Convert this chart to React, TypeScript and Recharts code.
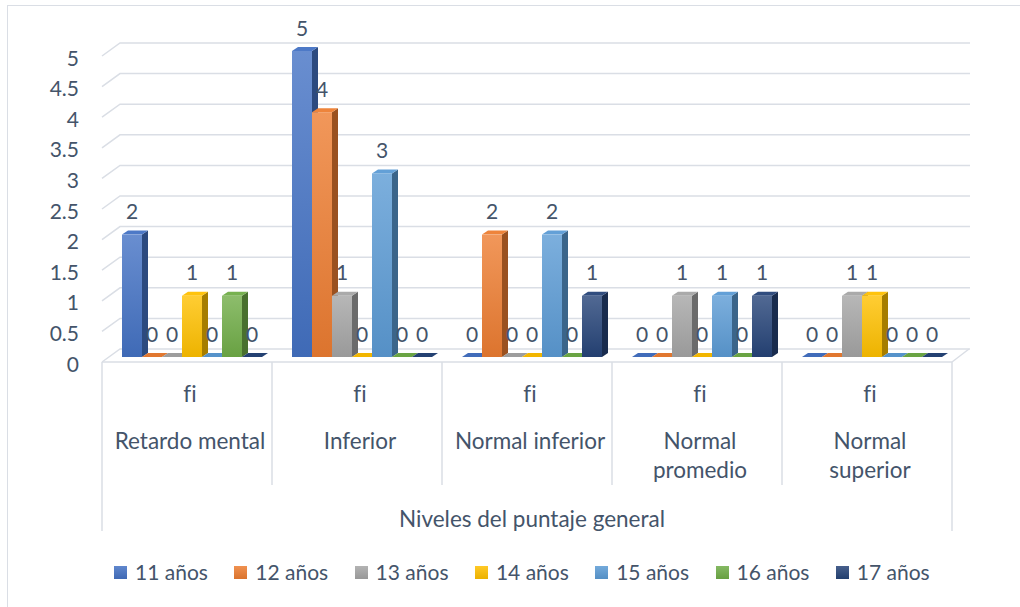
import { BarChart, Bar, XAxis, YAxis, CartesianGrid, LabelList } from 'recharts'

// categories (tick labels, already split the way the chart wraps them)
const categoryLines = [
  ['Retardo mental'],
  ['Inferior'],
  ['Normal inferior'],
  ['Normal', 'promedio'],
  ['Normal', 'superior'],
]
const subLabel = 'fi'
const axisTitle = 'Niveles del puntaje general'
const yTicks = [0, 0.5, 1, 1.5, 2, 2.5, 3, 3.5, 4, 4.5, 5]

const seriesNames = ['11 años', '12 años', '13 años', '14 años', '15 años', '16 años', '17 años']
const seriesColors = ['#4472C4', '#ED7D31', '#A5A5A5', '#FFC000', '#5B9BD5', '#70AD47', '#264478']

const age11 = [2, 5, 0, 0, 0]
const age12 = [0, 4, 2, 0, 0]
const age13 = [0, 1, 0, 1, 1]
const age14 = [1, 0, 0, 0, 1]
const age15 = [0, 3, 2, 1, 0]
const age16 = [1, 0, 0, 0, 0]
const age17 = [0, 0, 1, 1, 0]
const seriesValues = [age11, age12, age13, age14, age15, age16, age17]

const data = categoryLines.map((lines, i) => {
  const row: Record<string, number | string> = { name: lines.join(' ') }
  seriesValues.forEach((vals, j) => {
    row['s' + j] = vals[i]
  })
  return row
})

const W = 1020
const H = 607
const Y_AXIS_W = 107
const RIGHT = 63
const TOP = 51
const X_AXIS_H = 250
const PLOT_BOTTOM = H - X_AXIS_H
const BAND = (W - Y_AXIS_W - RIGHT) / categoryLines.length

const TEXT = '#44546A'
const GRID = '#dadee5'
const FONT = 'Lato, "Open Sans", sans-serif'
const FS = 21
const CAT_FS = 22.5
const noLig = { fontVariantLigatures: 'none' as const }

// depth of the fake 3d boxes
const DX = 6
const DY = 4

function mix(hex: string, t: number) {
  const n = parseInt(hex.slice(1), 16)
  const ch = [(n >> 16) & 255, (n >> 8) & 255, n & 255].map((c) =>
    Math.round(t >= 0 ? c + (255 - c) * t : c * (1 + t))
  )
  return '#' + ch.map((c) => c.toString(16).padStart(2, '0')).join('')
}

function Box3D(props: any) {
  const { x, y, width: w, height: h, sid } = props
  const base = seriesColors[sid]
  if (!h || h < 0.5) {
    return (
      <polygon
        points={`${x},${y} ${x + w},${y} ${x + w + DX},${y - DY} ${x + DX},${y - DY}`}
        fill={mix(base, -0.05)}
      />
    )
  }
  const gid = `g${sid}-${props.index}`
  return (
    <g>
      <defs>
        <linearGradient id={gid} x1="0" y1="0" x2="0" y2="1">
          <stop offset="0%" stopColor={mix(base, 0.2)} />
          <stop offset="100%" stopColor={mix(base, -0.07)} />
        </linearGradient>
      </defs>
      <polygon
        points={`${x + w},${y} ${x + w + DX},${y - DY} ${x + w + DX},${y + h - DY} ${x + w},${y + h}`}
        fill={mix(base, -0.35)}
      />
      <polygon
        points={`${x},${y} ${x + DX},${y - DY} ${x + w + DX},${y - DY} ${x + w},${y}`}
        fill={mix(base, 0.05)}
      />
      <rect x={x} y={y} width={w} height={h} fill={`url(#${gid})`} />
    </g>
  )
}

const gridLine = (p: any) => {
  const { x1, x2, y1 } = p
  return (
    <polyline
      key={p.key}
      points={`${x1 - 5},${y1 + 5} ${x1 + 13},${y1 - 8} ${x2 + 13},${y1 - 8}`}
      fill="none"
      stroke={GRID}
      strokeWidth={1.5}
    />
  )
}

const YTick = (p: any) => (
  <text
    x={79}
    y={p.y + 6}
    textAnchor="end"
    dominantBaseline="central"
    fill={TEXT}
    fontSize={FS}
    fontFamily={FONT}
  >
    {p.payload.value}
  </text>
)

const CatTick = (p: any) => {
  const { x, index } = p
  const left = x - BAND / 2 - 5
  const fy = PLOT_BOTTOM + 5
  const last = index === categoryLines.length - 1
  return (
    <g>
      <line x1={left} y1={fy} x2={left + BAND} y2={fy} stroke={GRID} strokeWidth={1.5} />
      <line x1={left} y1={fy} x2={left} y2={index === 0 ? 531 : 485} stroke={GRID} strokeWidth={1.5} />
      {last && (
        <>
          <line x1={left + BAND} y1={fy} x2={left + BAND} y2={531} stroke={GRID} strokeWidth={1.5} />
          <line x1={left + BAND} y1={fy} x2={left + BAND + 17} y2={fy - 13} stroke={GRID} strokeWidth={1.5} />
        </>
      )}
      <text
        x={x - 2}
        y={393}
        textAnchor="middle"
        dominantBaseline="central"
        fill={TEXT}
        fontSize={CAT_FS}
        fontFamily={FONT}
        style={noLig}
      >
        {subLabel}
      </text>
      {categoryLines[index].map((line, k) => (
        <text
          key={k}
          x={x - 2}
          y={440 + k * 29}
          textAnchor="middle"
          dominantBaseline="central"
          fill={TEXT}
          fontSize={CAT_FS}
          fontFamily={FONT}
          style={noLig}
        >
          {line}
        </text>
      ))}
    </g>
  )
}

const valueLabel = (p: any) => (
  <text
    x={p.x + p.width / 2}
    y={p.y - 24}
    textAnchor="middle"
    dominantBaseline="central"
    fill={TEXT}
    fontSize={FS}
    fontFamily={FONT}
  >
    {p.value}
  </text>
)

export default function App() {
  return (
    <div
      style={{
        position: 'absolute',
        left: 0,
        top: 0,
        width: W,
        height: H,
        overflow: 'hidden',
        background: '#fff',
        fontFamily: FONT,
      }}
    >
      <div
        style={{
          position: 'absolute',
          left: 7,
          top: 5,
          width: W + 20,
          height: H + 20,
          borderLeft: `1.5px solid ${GRID}`,
          borderTop: `1.5px solid ${GRID}`,
        }}
      />
      <div style={{ position: 'absolute', left: 0, top: 0 }}>
        <BarChart
          width={W}
          height={H}
          data={data}
          margin={{ top: TOP, right: RIGHT, bottom: 0, left: 0 }}
          barSize={20}
          barGap={0}
        >
          <CartesianGrid horizontal={gridLine} vertical={false} />
          <YAxis
            width={Y_AXIS_W}
            domain={[0, 5]}
            ticks={yTicks}
            axisLine={false}
            tickLine={false}
            tick={YTick}
          />
          <XAxis
            dataKey="name"
            height={X_AXIS_H}
            axisLine={false}
            tickLine={false}
            interval={0}
            tick={CatTick}
            label={{
              value: axisTitle,
              position: 'insideBottom',
              offset: 80,
              fill: TEXT,
              fontSize: CAT_FS,
              fontFamily: FONT,
            }}
          />
          {seriesNames.map((name, j) => (
            <Bar
              key={name}
              dataKey={'s' + j}
              name={name}
              fill={seriesColors[j]}
              isAnimationActive={false}
              shape={(p: any) => <Box3D {...p} sid={j} />}
            >
              <LabelList dataKey={'s' + j} content={valueLabel} />
            </Bar>
          ))}
        </BarChart>
      </div>
      {seriesNames.map((name, i) => (
        <div
          key={name}
          style={{
            position: 'absolute',
            left: 114 + i * 120.3,
            top: 560,
            height: 24,
            display: 'flex',
            alignItems: 'center',
            whiteSpace: 'nowrap',
            color: TEXT,
            fontSize: FS,
            lineHeight: '24px',
          }}
        >
          <span
            style={{
              display: 'inline-block',
              width: 13,
              height: 13,
              background: `linear-gradient(${mix(seriesColors[i], 0.15)}, ${mix(seriesColors[i], -0.08)})`,
            }}
          />
          <span style={{ marginLeft: 8 }}>{name}</span>
        </div>
      ))}
    </div>
  )
}
